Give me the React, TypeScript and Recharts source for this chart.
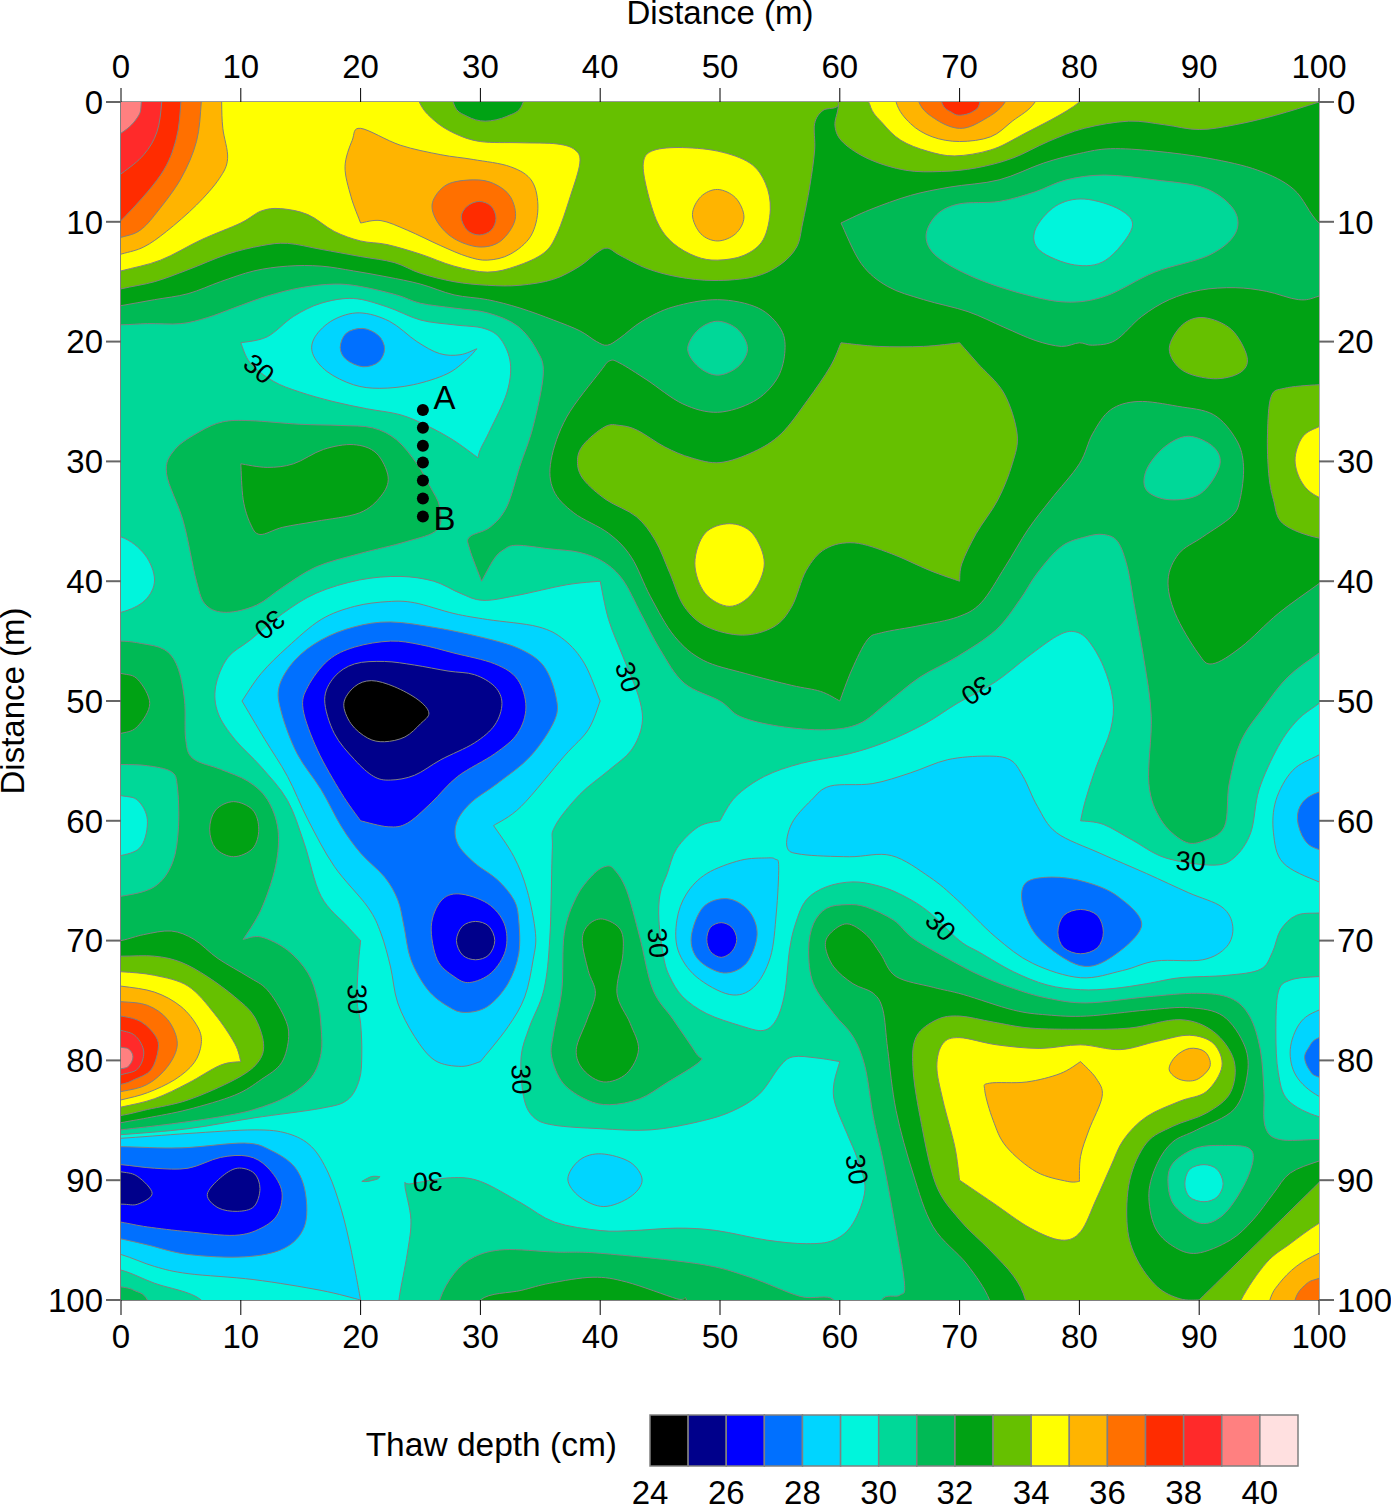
import { ScatterChart, Scatter, XAxis, YAxis, ReferenceArea } from 'recharts';

type Pt = [number, number];

const FONT = '"Liberation Sans", Arial, sans-serif';
const TICKS = [0, 10, 20, 30, 40, 50, 60, 70, 80, 90, 100];
const LEVELS = [24, 25, 26, 27, 28, 29, 30, 31, 32, 33, 34, 35, 36, 37, 38, 39, 40];
const LEVEL_TICKS = [24, 26, 28, 30, 32, 34, 36, 38, 40];
const COLORS = ['#000000', '#00008b', '#0000ff', '#0070ff', '#00d5ff', '#00f5dc', '#00d898', '#00ba55', '#00a214', '#66c000', '#ffff00', '#ffb400', '#ff7000', '#ff2c00', '#ff2a2a', '#ff8080', '#ffe0e0'];

// contours, in metres, a repeated point is a sharp corner
const BASE: Pt[] = [[-3, -3], [-3, -3], [103, -3], [103, -3], [103, 103], [103, 103], [-3, 103], [-3, 103]];

const TOP_31: Pt[] = [[-3, 18.6], [0, 18.6], [2.2, 18.5], [5, 18.5], [7.2, 18], [9.4, 17.2], [12.2, 16.2], [15, 15.5], [17.8, 15.2], [20, 15.4], [23, 16.1], [25, 16.8], [27.8, 17.2], [30.6, 17.6], [33.1, 18.7], [34.7, 20.7], [35.25, 22.7], [34.4, 27.1], [33.3, 30.4], [32.2, 33.8], [30.8, 35.5], [29.1, 36.3], [29.1, 37.3], [30.1, 40], [30.1, 40], [31.1, 38.2], [31.9, 37.4], [33, 37], [35.8, 37.3], [38.3, 37.6], [40.3, 38.4], [41.9, 39.9], [43.4, 42.7], [45, 45.7], [47, 48.5], [50, 50], [51.7, 51.3], [54.9, 52.1], [58.8, 52.4], [61.6, 51.9], [63.9, 50.2], [66.7, 48], [69.8, 46.3], [73, 44.1], [75, 41.6], [76.5, 39.3], [78.5, 37.1], [80.5, 36.3], [82, 36.1], [83.2, 36.7], [84, 38.8], [84.6, 42.1], [85.4, 46.6], [86, 51.3], [85.8, 56.9], [86.8, 59.9], [88.7, 61.7], [90.3, 61.7], [92.1, 60.5], [92.5, 56.9], [93.5, 53.3], [95.4, 50.5], [97.4, 48], [100, 46], [103, 44], [103, -3], [-3, -3]];
const TOP_32: Pt[] = [[-3, 17.5], [0, 17], [2.8, 16.5], [5.6, 16], [8.3, 15], [11.1, 14.1], [13.9, 13.7], [16.7, 13.7], [19.4, 14.1], [22.2, 14.6], [25, 15.2], [27.8, 16.1], [30.6, 16.5], [33.3, 17.2], [36.1, 18.2], [38.3, 19.1], [39.7, 20], [40.6, 20.3], [41.65, 19.7], [43.5, 18.3], [46.1, 17.1], [49.8, 16.5], [53.2, 17.2], [55.1, 19], [55.4, 21], [54.7, 23.2], [52.8, 25], [49.8, 25.9], [46.9, 25.2], [43.9, 23.2], [41.65, 21.8], [40.8, 21.6], [40, 22.5], [37.2, 26.3], [35.9, 29.9], [36.1, 32.4], [37.8, 34.3], [40.7, 36], [42.6, 38], [44.2, 41.3], [46.2, 44.6], [48.6, 46.6], [52.1, 47.7], [56, 48.7], [58.4, 49.2], [60, 50], [60, 50], [61, 47.4], [62.3, 44.9], [63.5, 44.3], [66.7, 43.7], [69.8, 43], [71.8, 41.8], [73.8, 38.8], [75.7, 35.7], [77.6, 33.2], [80, 30.2], [81.1, 27.7], [82.6, 25.7], [84.9, 25], [88.2, 25.4], [91.2, 26.1], [93.1, 28.2], [93.7, 30.4], [93.4, 33.2], [92.7, 34.6], [90.3, 36.3], [88.3, 37.7], [87.4, 39.9], [88, 42.7], [89.9, 46], [91.1, 46.9], [93.5, 45.5], [96.6, 42.7], [100, 40.2], [103, 38], [103, -3], [-3, -3]];
const TOP_33_LEFT: Pt[] = [[-3, 16.4], [0, 15.6], [2.8, 15], [5.6, 14], [8.9, 12.7], [11.7, 12], [13.9, 11.8], [16.7, 12.3], [20, 12.9], [22.8, 13.4], [25, 14.3], [27.8, 15], [30.6, 15.3], [33.3, 15.3], [36.1, 14.8], [38.3, 13.7], [39.7, 12.6], [40.6, 12.2], [41.65, 12.8], [43.9, 13.9], [46.5, 14.6], [49.5, 14.9], [52.8, 14.6], [55, 13.6], [56.4, 12.1], [56.9, 10.1], [57.5, 7], [57.9, 4], [57.9, 1.8], [58.6, 0.7], [60, 0.1], [60, -3], [-3, -3]];
const TOP_33_RIGHT: Pt[] = [[60, -3], [59.9, 0.2], [59.6, 2], [60.3, 3.4], [62.5, 4.8], [65.5, 5.7], [68.5, 5.8], [71.4, 5.5], [74.4, 4.7], [77.4, 3.3], [80.4, 2.2], [84.1, 1.6], [87.1, 1.9], [90, 2.3], [93, 1.9], [96.4, 1.1], [100, 0], [103, -1], [103, -3]];
const TOP_32_POCKET: Pt[] = [[27.5, -3], [27.8, 0.2], [28.9, 1.2], [30.4, 1.6], [32.2, 1.2], [33.5, 0.2], [33.8, -3]];
const TOP_34_LEFT: Pt[] = [[-3, 14.9], [0, 14.1], [3.3, 13.2], [6.7, 11.5], [10, 10.1], [11.7, 9.1], [13.3, 8.9], [15.6, 9.4], [17.8, 10.8], [20, 11.6], [22.2, 11.9], [25, 12.7], [27.8, 13.7], [30.6, 14.2], [33, 13.7], [35.3, 12.6], [36.4, 11], [37.5, 7.9], [38.3, 5.1], [37.9, 4], [36.4, 3.5], [33.3, 3.4], [30, 3.3], [27.8, 2.6], [26.1, 1.5], [24.9, 0], [24, -3], [-3, -3]];
const TOP_35_LEFT: Pt[] = [[-3, 13.5], [0, 12.7], [1.9, 12.1], [3.8, 10.8], [6.3, 8.6], [8.2, 6.4], [8.9, 4.7], [8.5, 2.2], [8.4, 0], [8.4, -3], [-3, -3]];
const TOP_36_LEFT: Pt[] = [[-3, 12], [0, 11.3], [1.6, 10.7], [3, 9.2], [5, 6.4], [6.3, 3.3], [6.7, 0], [6.8, -3], [-3, -3]];
const TOP_37_LEFT: Pt[] = [[-3, 12.5], [0, 9.9], [3.3, 6.1], [4.6, 3.1], [5, 0], [5.1, -3], [-3, -3]];
const TOP_38_LEFT: Pt[] = [[-3, 8], [0, 6], [1.9, 4.4], [3, 2.5], [3.4, 0], [3.5, -3], [-3, -3]];
const TOP_39_LEFT: Pt[] = [[-3, 4], [0, 2.6], [1.4, 1.25], [1.7, 0], [1.8, -3], [-3, -3]];
const ORANGE_TOP: Pt[] = [[20, 2.2], [19.3, 3.2], [18.7, 5.4], [19.2, 7.9], [20, 10.1], [20, 10.1], [21.7, 9.9], [23.9, 10.7], [26.7, 12], [28.9, 12.9], [30.6, 13.2], [32.5, 12.7], [34.2, 11.2], [34.8, 8.9], [34.3, 6.6], [32.5, 5.4], [29.4, 4.8], [26.7, 4.4], [23.3, 3.6]];
const HOT_TOP_36: Pt[] = [[29.4, 6.5], [27.2, 6.9], [26, 8.4], [26.4, 10], [27.8, 11.4], [29.9, 12.1], [31.7, 11.6], [32.9, 9.8], [32.5, 7.9], [31.1, 6.8]];
const HOT_TOP_37: Pt[] = [[29.9, 8.3], [28.9, 8.7], [28.4, 9.6], [28.9, 10.7], [29.9, 11.1], [30.9, 10.7], [31.3, 9.7], [30.9, 8.7]];
const YELLOW_50: Pt[] = [[46.5, 3.8], [44.3, 4.1], [43.6, 5.1], [43.9, 7.3], [44.8, 10.1], [46.1, 11.8], [48, 12.9], [49.8, 13.2], [52, 12.8], [53.6, 11.5], [54.2, 9], [53.8, 6.8], [52.5, 5.1], [49.8, 4.1]];
const ORANGE_50: Pt[] = [[49.8, 7.3], [48.4, 7.9], [47.7, 9.4], [48.4, 11], [49.8, 11.6], [51.3, 11], [52, 9.6], [51.3, 8]];
const YELLOW_70: Pt[] = [[62.3, -3], [62.5, 0.2], [63.6, 1.8], [65.1, 3.2], [67.3, 4.1], [69.6, 4.5], [72.6, 4], [75.2, 2.75], [80, 0], [82, -3]];
const ORANGE_70: Pt[] = [[64.5, -3], [64.7, 0], [65.9, 1.8], [67.7, 2.9], [70, 3.3], [72.6, 2.9], [74.4, 1.6], [76.3, 0], [77.5, -3]];
const HOT_70_36: Pt[] = [[66.3, -3], [66.6, 0], [68.1, 1.5], [70, 2.2], [71.8, 1.6], [73.8, 0], [74.5, -3]];
const HOT_70_37: Pt[] = [[68.2, -3], [68.5, 0], [69.4, 0.9], [70.1, 1.1], [71.1, 0.8], [71.7, 0], [72, -3]];

const UPPER_RIGHT_31: Pt[] = [[60.1, 10.1], [60.1, 10.1], [62.5, 9], [65.9, 7.8], [69.2, 7.1], [73.3, 6.5], [77, 5.1], [80, 4.3], [82.6, 3.9], [86.3, 4.1], [90.8, 4.7], [94.9, 5.7], [97.9, 7.3], [100, 10.1], [103, 12], [103, 15], [100, 16.2], [98.3, 16.5], [95.6, 15.8], [93, 15.5], [90.1, 15.7], [87.5, 16.5], [85.2, 17.9], [83, 19.9], [81.1, 20.3], [80, 20.1], [78.5, 20.4], [76.3, 19.9], [73.7, 18.8], [70.7, 17.5], [67, 16.5], [64, 15.4], [61.8, 13.5]];
const UPPER_RIGHT_30: Pt[] = [[82.1, 6.1], [78.9, 6.5], [76.3, 7.5], [73.3, 8.3], [70, 8.5], [68.1, 9.4], [67.2, 11.2], [68.1, 12.9], [71.1, 14.6], [75.2, 16], [78.9, 16.7], [82.2, 16.2], [86.3, 14.2], [90.8, 12.8], [93, 11], [92.9, 9], [90.5, 7.2], [86.3, 6.5]];
const UPPER_RIGHT_29: Pt[] = [[80.4, 8.1], [78, 8.7], [76.3, 10.7], [76.7, 12.4], [79.6, 13.6], [82.2, 13.2], [84.4, 10.5], [83.4, 9]];
const POCKET_50_30: Pt[] = [[49.8, 18.3], [48.2, 19], [47.3, 20.6], [48.2, 22.1], [49.8, 22.8], [51.5, 22.1], [52.3, 20.6], [51.5, 19]];
const SPOT_90_33: Pt[] = [[90.4, 18], [88.6, 18.6], [87.5, 20.6], [88.6, 22.4], [91.2, 23.1], [93.4, 22.6], [94, 21.3], [92.7, 19]];
const RIGHT_33: Pt[] = [[103, 23.6], [100, 23.6], [97.1, 23.9], [96, 24.6], [95.7, 27.7], [95.8, 31], [96.2, 33.2], [97, 35.2], [100, 36.4], [103, 36.4]];
const RIGHT_34: Pt[] = [[103, 26], [100, 27.1], [98.6, 28], [98, 29.9], [98.6, 31.8], [100, 33], [103, 34]];
const CENTER_33: Pt[] = [[60.1, 20.1], [60.1, 20.1], [63.2, 20.4], [67, 20.4], [70, 20.1], [70, 20.1], [71.5, 21.8], [73.7, 24.3], [74.8, 27.7], [74.4, 30.2], [73.2, 33.2], [71.4, 36], [70.2, 38.5], [70, 40], [70, 40], [67.5, 39.1], [64.3, 37.7], [61.2, 36.8], [58.8, 37.3], [57.2, 39.1], [56, 42.1], [54.5, 43.8], [51.9, 44.5], [48.9, 43.8], [47, 42.1], [45.8, 39.3], [44.6, 36.6], [43, 34.6], [40.5, 33.2], [38.6, 31.5], [38.1, 30], [38.6, 28.6], [40.4, 27.1], [41.65, 27], [43.1, 27.4], [45.4, 28.8], [47.6, 29.7], [50, 30.1], [52.8, 29.2], [55.1, 27.7], [57.3, 24.9], [59.2, 22.1]];
const CENTER_34: Pt[] = [[50.8, 35.2], [48.75, 36], [47.9, 38.5], [48.75, 41], [50.8, 42.1], [52.7, 41], [53.7, 38.5], [52.7, 36]];
const POCKET_88_30: Pt[] = [[89.1, 27.9], [87.1, 28.8], [85.6, 30.7], [85.6, 32.4], [87.5, 33.2], [90.1, 32.7], [91.7, 30.4], [91.2, 28.8]];

const TEAR_29: Pt[] = [[10, 20.1], [10, 20.1], [12.2, 19.6], [14.4, 17.9], [16.7, 16.8], [19.4, 16.4], [22.2, 17.1], [25, 18.2], [27.8, 18.6], [30.3, 18.9], [31.7, 19.8], [32.5, 21.8], [32.2, 24.3], [30.8, 27.4], [30, 29], [29.8, 29.7], [29.8, 29.7], [27.7, 28.2], [25.5, 27], [23.3, 26.1], [20.5, 25.6], [17.7, 25], [14.9, 24.2], [12.7, 23.3], [10.8, 21.8]];
const TEAR_28: Pt[] = [[19.9, 17.6], [17.7, 18.2], [16.2, 19.6], [16, 21], [17.2, 22.5], [19.4, 23.6], [21.6, 23.9], [24.4, 23.6], [27.2, 22.7], [28.85, 21.5], [29.7, 20.6], [29.7, 20.6], [28.3, 21.1], [26.6, 21], [24.7, 20], [22.4, 18.3]];
const TEAR_27: Pt[] = [[20.2, 18.9], [18.8, 19.3], [18.3, 20.5], [18.8, 21.5], [20.2, 22.1], [21.5, 21.7], [22, 20.6], [21.5, 19.5]];
const ISLAND_31: Pt[] = [[6.6, 27.5], [8.5, 26.7], [10.8, 26.6], [14.9, 26.9], [18.3, 27], [21, 27.2], [23, 28.2], [24.7, 30.2], [25.8, 32.1], [26.6, 33.8], [26.4, 35.7], [23.8, 36.7], [19.9, 37.7], [16.3, 38.8], [13.5, 40.5], [11.3, 42], [8.8, 42.6], [7.1, 42], [6.3, 40], [5.2, 35], [3.8, 31], [4.5, 29]];
const ISLAND_32: Pt[] = [[10, 30.2], [10, 30.2], [12.2, 30.5], [14.4, 30.2], [16.9, 29], [19.4, 28.6], [21.3, 29.3], [22.3, 31.3], [21.7, 32.9], [19.9, 34.3], [16.3, 35], [13.5, 35.5], [11.6, 36.1], [10.8, 35.2], [10.2, 33.2]];
const EDGE_29_40: Pt[] = [[-3, 36], [0, 36.3], [2, 37.8], [2.8, 39.9], [2, 41.6], [0, 42.6], [-3, 43]];

const LEFT_31: Pt[] = [[-3, 45], [0, 45], [1.7, 45.2], [3.6, 45.7], [4.7, 47.1], [5.3, 49.9], [5.4, 53.2], [6, 54.8], [8.3, 55.7], [10.6, 56.7], [12.2, 58.2], [13.1, 60.7], [12.9, 63.8], [11.7, 67.4], [10.2, 69.9], [10.2, 69.9], [11.7, 69.7], [13.9, 70.8], [15.6, 72.7], [16.4, 74.9], [16.7, 77.2], [16.7, 79.4], [15.9, 81.4], [13.9, 83], [11.1, 84.1], [8.3, 84.7], [4.2, 85.3], [0, 85.8], [-3, 86.2]];
const LEFT_30: Pt[] = [[-3, 55.3], [0, 55.3], [2.2, 55.4], [4.2, 55.9], [4.7, 57.1], [4.8, 60.5], [4.3, 63.5], [2.8, 65.5], [0, 66.3], [-3, 66.5]];
const LEFT_29: Pt[] = [[-3, 57.5], [0, 57.9], [1.4, 58.3], [2.2, 59.9], [1.7, 62.1], [0, 62.9], [-3, 63.2]];
const LEFT_32: Pt[] = [[-3, 47.3], [0, 47.7], [1.4, 48.2], [2.4, 50.2], [1.4, 52.1], [0, 52.7], [-3, 53]];
const SPOT_10_32: Pt[] = [[9.4, 58.4], [7.9, 59.1], [7.4, 60.7], [7.9, 62.3], [9.4, 63], [11, 62.3], [11.5, 60.7], [11, 59.1]];
const NEST_32: Pt[] = [[-3, 70.5], [0, 70], [1.9, 69.5], [4.2, 69.2], [6.1, 69.9], [8.1, 71.5], [10.6, 73], [12.2, 74.1], [13.6, 76.3], [14, 78], [13.4, 80.2], [11.7, 81.6], [9.5, 82.9], [5.6, 84.1], [2.2, 84.8], [0, 85.2], [-3, 85.8]];
const NEST_33: Pt[] = [[-3, 71.3], [0, 71.3], [2.8, 71.3], [5, 71.8], [7.2, 73], [9.5, 74.7], [11.1, 76.3], [11.9, 78.6], [11.4, 80.2], [9.5, 81.6], [5.6, 83.3], [2.2, 84.1], [0, 84.6], [-3, 85]];
const NEST_34: Pt[] = [[-3, 72.5], [0, 72.6], [2.8, 72.9], [5.6, 73.8], [7.8, 76.1], [9.5, 78.6], [10, 80.1], [10, 80.1], [8.3, 80.4], [5.6, 81.9], [2.8, 83.2], [0, 83.9], [-3, 84.5]];
const NEST_35: Pt[] = [[-3, 73.5], [0, 73.8], [2.8, 74.3], [5, 75.5], [6.4, 77.2], [6.7, 78.6], [6.1, 80.2], [4.5, 81.6], [2.2, 82.7], [0, 83.3], [-3, 84]];
const NEST_36: Pt[] = [[-3, 75], [0, 75.1], [2.2, 75.4], [3.9, 76.6], [4.7, 78.6], [3.9, 80.5], [2.2, 82], [0, 82.6], [-3, 83]];
const NEST_37: Pt[] = [[-3, 76], [0, 76.3], [1.7, 76.8], [2.9, 78], [3.1, 79.1], [2.5, 80.8], [1.1, 81.6], [0, 82], [-3, 82.6]];
const NEST_38: Pt[] = [[-3, 77], [0, 77.5], [1.25, 78], [1.9, 79.3], [1.4, 80.7], [0, 81.2], [-3, 82]];
const NEST_39: Pt[] = [[-3, 78.5], [0, 78.9], [0.7, 79.1], [1, 79.7], [0.7, 80.4], [0, 80.7], [-3, 81]];

const MID_29: Pt[] = [[40, 40], [40, 40], [37.2, 40.3], [33, 41.2], [30.2, 41.6], [28.3, 41], [26.1, 40], [23.3, 39.6], [19.9, 39.9], [16.3, 41], [13.5, 42.7], [10.8, 44.9], [8.9, 46.4], [7.9, 48.8], [8.1, 51], [9.5, 53.2], [11.7, 55.5], [13.9, 58.3], [15.3, 61.9], [16.7, 66.3], [18.9, 68.8], [20, 70], [20, 70], [19.8, 72.2], [19.7, 75], [20, 76.9], [20.1, 79.4], [19.9, 81.6], [18.9, 83.3], [16.7, 84], [11.1, 84.8], [5.6, 85.7], [0, 86.2], [-3, 86.4], [-3, 97], [0, 97.5], [2.8, 98.6], [6.7, 100], [8, 103], [23, 103], [23.2, 100], [23.9, 96.1], [24.2, 93.3], [23.7, 90.4], [24.2, 90.3], [27.5, 89.8], [30, 90.1], [33.4, 91.9], [36.2, 93.5], [40, 94.2], [42.8, 94.2], [46.4, 94], [49.7, 94.2], [53.9, 95], [57.2, 95.3], [59.5, 95], [61.1, 93.6], [62.1, 90.8], [61.5, 88.3], [60.6, 86.1], [59.6, 83.6], [59.5, 82], [60, 80.1], [60, 80.1], [58.1, 79.8], [56.1, 79.7], [55, 80.5], [53.3, 82.8], [51.1, 84.2], [48.3, 85.1], [44.2, 85.8], [40, 85.7], [36.1, 85.4], [34.4, 84.7], [33.6, 83], [33.4, 79.7], [34.1, 77.2], [35.3, 74.1], [35.8, 69.7], [36, 62.5], [36.2, 60.5], [38.3, 57.8], [40.7, 55.8], [42.6, 54.1], [43.5, 51.9], [43.2, 49.6], [41.9, 46.3], [40.7, 43.2]];
const RIGHT_29: Pt[] = [[46.4, 62.3], [48.2, 60.5], [50, 60], [50, 60], [51.3, 58], [53.7, 56.3], [56.8, 55.2], [60.8, 54.4], [63.9, 53.4], [67.1, 51.9], [69.8, 50.2], [73, 48.4], [75.7, 46.3], [78.1, 44.6], [79.5, 44.2], [80.7, 44.9], [82, 47.1], [82.8, 49.9], [82.6, 52.4], [81.4, 55.5], [80.5, 58.3], [80.1, 60], [80.1, 60], [82, 60.3], [84.4, 61.6], [87.2, 63.1], [91.1, 63.7], [92.9, 63.1], [94.3, 61], [95, 57.4], [96.6, 53.8], [98.2, 51.6], [100, 50.2], [103, 48], [103, 67.7], [100, 67.7], [98.1, 67.9], [96.8, 69.1], [96.1, 71], [95.1, 72.4], [92.3, 72.9], [88.4, 73.1], [85.6, 73.6], [82.8, 74], [80.1, 74.1], [77.3, 73.7], [74.5, 72.6], [71.7, 71], [70, 70], [67.3, 67.5], [65, 66.1], [63.1, 65.4], [61.1, 65.1], [58.9, 65.5], [57.2, 66.6], [56.3, 68.6], [55.8, 70.8], [55.4, 74.4], [54.7, 76.6], [53.6, 77.5], [51.7, 77.1], [48.9, 76.1], [46.9, 74.7], [45.8, 73], [45.3, 71.4], [44.9, 68.3], [45, 66.1], [45.6, 64.4]];
const EDGE_60_28: Pt[] = [[103, 53], [100, 54.5], [97.8, 55.8], [96.4, 58.3], [96.2, 61], [97, 63.5], [100, 65.1], [103, 66]];
const EDGE_60_27: Pt[] = [[103, 57], [100, 57.6], [98.6, 58.5], [98.2, 59.9], [98.8, 61.6], [100, 62.4], [103, 63]];
const EDGE_80_29: Pt[] = [[103, 73], [100, 73], [97.6, 73.3], [96.6, 74.3], [96.4, 77.7], [96.6, 81], [97.4, 83.3], [100, 84.7], [103, 85]];
const EDGE_80_28: Pt[] = [[103, 75], [100, 75.8], [98.4, 76.9], [97.6, 79.1], [98.1, 81.3], [100, 83], [103, 84]];
const EDGE_80_27: Pt[] = [[103, 77.5], [100, 78.1], [99.1, 79], [98.8, 79.8], [99.2, 80.8], [100, 81.4], [103, 82]];

const LOW_28: Pt[] = [[10.1, 50], [10.1, 50], [11.7, 47.7], [13.9, 45.5], [16.7, 43.2], [19.5, 42.1], [22.3, 41.7], [24.5, 41.8], [27.8, 42.7], [30.6, 43.2], [34.8, 43.8], [37, 44.9], [38.7, 46.9], [40, 50], [40, 50], [39, 52.4], [37, 54.6], [33.4, 58.8], [31.1, 60.4], [31.1, 60.4], [32.8, 63], [33.9, 65.8], [34.6, 69.4], [34.4, 71.6], [33.7, 74.7], [32.3, 77.2], [30, 80.1], [30, 80.1], [28.4, 80.5], [26.2, 80], [24.5, 78], [23.1, 75.2], [22.5, 72.2], [21.7, 69.4], [20.6, 67.2], [17.8, 63.8], [15.6, 59.9], [13.9, 56.3], [12, 53.2]];
const LOW_27: Pt[] = [[22.5, 43.4], [19.5, 43.8], [16.7, 44.9], [14.5, 46.6], [13.2, 48.8], [13.4, 51], [14.7, 54.4], [16.7, 57.4], [18.4, 60.5], [20, 62.7], [22, 64.7], [23.1, 66.6], [23.6, 68.7], [24.2, 71.6], [25.6, 74.1], [27.3, 75.5], [28.7, 76], [30.6, 75.5], [32.3, 73.6], [33.2, 71.1], [33.2, 68.3], [32.8, 66.6], [31.4, 64.9], [29.5, 63.5], [28.1, 61.9], [28, 60.2], [29.2, 58.5], [31.4, 56.9], [34.2, 54.6], [36.2, 51.6], [36.3, 49.6], [35.3, 47.1], [33.4, 45.7], [30.6, 44.8], [26.4, 43.9]];
const LOW_26: Pt[] = [[22.5, 45], [19.5, 45.5], [17.3, 46.6], [15.6, 48.8], [15.2, 50.7], [16.4, 54.1], [18.4, 57.7], [20, 60], [20, 60], [22.3, 60.5], [23.9, 60.2], [25.9, 58.5], [28.1, 56.3], [31.2, 54.4], [33.1, 52.7], [33.8, 50.5], [33.1, 48.2], [31.2, 46.9], [27.8, 46], [25, 45.3]];
const LOW_25: Pt[] = [[22, 46.7], [19.5, 46.9], [17.8, 48], [17, 49.9], [17.8, 52.7], [19.5, 54.9], [21.1, 56.3], [22.5, 56.6], [24.5, 56.2], [26.7, 54.9], [29.5, 53.5], [31.2, 52], [31.8, 50.2], [31.2, 48.8], [29.5, 47.8], [27.3, 47.5], [24.5, 47]];
const LOW_24: Pt[] = [[20.9, 48.3], [19.5, 48.8], [18.6, 50.2], [19.2, 51.9], [20.6, 53.1], [22, 53.4], [23.7, 53], [25, 51.9], [25.7, 51], [24.8, 49.9], [22.8, 48.8]];
const LOBE_26: Pt[] = [[28.2, 66.1], [26.7, 66.7], [25.9, 68.8], [26.4, 71.6], [27.8, 73], [29.1, 73.5], [30.9, 72.7], [32.1, 70.8], [32, 68.6], [30.6, 66.9]];
const LOBE_25: Pt[] = [[29.6, 68.4], [28.5, 68.8], [28, 70], [28.5, 71.2], [29.6, 71.6], [30.7, 71.2], [31.2, 70], [30.7, 68.8]];

const EYE_28: Pt[] = [[53.9, 63.1], [51.7, 63.3], [48.9, 64.4], [47.2, 66.1], [46.4, 68.3], [46.5, 70.8], [48, 73], [50.8, 74.5], [52.8, 73.9], [54.2, 71.4], [54.7, 67.7], [54.9, 63.8], [54.6, 63.2]];
const EYE_27: Pt[] = [[50.6, 66.5], [48.6, 67.2], [47.6, 69.7], [48.2, 71.6], [50.3, 72.7], [52.2, 71.9], [53.1, 69.5], [52.4, 67.5]];
const EYE_26: Pt[] = [[50.1, 68.5], [49.2, 68.9], [48.9, 69.9], [49.2, 70.9], [50.1, 71.4], [51, 70.9], [51.4, 69.9], [51, 68.9]];
const BROAD_28: Pt[] = [[72.2, 54.6], [69, 54.9], [65.9, 56], [62.7, 56.9], [59.2, 57.1], [57.6, 58.3], [56, 60.2], [55.6, 62.2], [56.8, 62.8], [60.8, 63], [64.3, 62.9], [67.5, 64.7], [69.8, 66.6], [73, 69.7], [76.1, 71.9], [80.1, 73.1], [83.6, 72.5], [86.4, 71.7], [90.3, 71.6], [92.3, 70.5], [92.8, 68.8], [91.9, 67.2], [89.1, 66], [85.6, 64.4], [81.7, 62.7], [78.1, 61], [76.5, 58.8], [75.3, 56.3], [74.2, 54.9]];
const BROAD_27: Pt[] = [[77.7, 64.7], [75.5, 65.2], [75.3, 67.2], [76.7, 69.9], [80.1, 72.1], [82.8, 71.3], [85.2, 68.7], [83.2, 66.3], [80.5, 65.1]];
const BROAD_26: Pt[] = [[80.1, 67.4], [78.7, 67.9], [78.2, 69.3], [78.7, 70.6], [80.1, 71.1], [81.5, 70.6], [82, 69.3], [81.5, 67.9]];

const KEEL_31: Pt[] = [[40.5, 63.8], [39.4, 64.5], [38, 66.4], [37, 69.4], [36.8, 74.1], [36.1, 77.8], [35.95, 79.7], [36.9, 81.9], [38.9, 83.3], [40.8, 83.7], [43.3, 83.2], [45.5, 81.9], [48.3, 80.1], [48, 79.4], [46.1, 76.6], [44.4, 74.1], [43.3, 69.7], [42.2, 65.8], [41.2, 64.1]];
const KEEL_32: Pt[] = [[40.2, 68.2], [39, 68.7], [38.5, 70], [39, 72.5], [39.6, 74.4], [38.9, 76.6], [38, 79.1], [38.6, 80.8], [40.3, 81.8], [42.2, 81.1], [43.2, 79.1], [42.5, 76.9], [41.4, 74.4], [41.9, 71.1], [41.7, 69.1]];

const SOUTH_31: Pt[] = [[60.6, 67], [58.9, 67.3], [57.8, 68.6], [57.4, 70.8], [57.8, 73.6], [59.5, 76.1], [61.1, 78], [62.1, 80.5], [62.8, 84.7], [63.6, 88.3], [64.5, 93.1], [65.4, 98.6], [65, 99.6], [63.5, 100], [63, 103], [103, 103], [103, 86.6], [100, 86.6], [96.7, 86.6], [95.5, 85.5], [95.4, 82.5], [95.1, 79.1], [94.2, 76.3], [92.6, 74.8], [89.8, 74.4], [85.6, 74.7], [80.6, 75.2], [77.3, 74.8], [74.5, 74], [71.7, 72.9], [69, 71.5], [66.1, 69.8], [64.5, 68.3], [62.2, 67.2]];
const SOUTH_32: Pt[] = [[60.6, 68.6], [59.2, 69.4], [58.8, 70.5], [59.5, 72.2], [61.1, 73.6], [62.8, 74.4], [63.6, 75.8], [64, 79.1], [64.7, 84.2], [66.1, 89.4], [67.8, 93.9], [70.6, 97], [72.5, 100], [73, 103], [103, 103], [103, 87.5], [100, 88.4], [97.6, 89.4], [96.2, 91.1], [94.5, 93.3], [92.6, 95], [89.8, 96.1], [87.8, 95.5], [86.3, 93.9], [85.8, 91.1], [86.5, 88.6], [87.8, 86.8], [89.8, 85.8], [92.9, 84.1], [94, 81.3], [93.8, 78.8], [92, 76.3], [89.2, 75.6], [85.6, 75.8], [80.6, 76.3], [77.3, 76.2], [74.5, 75.8], [70.3, 74.5], [67.8, 73.9], [64.7, 73], [63.4, 71.1], [62.2, 69.5]];
const SOUTH_33: Pt[] = [[76, 103], [75.5, 100], [74.5, 98], [72.5, 95.8], [70, 93.3], [68, 90.3], [66.7, 84.7], [66.1, 80.5], [66.4, 78], [68.1, 76.6], [70, 76.3], [72.8, 76.8], [75.9, 77.3], [80.1, 77.4], [84.2, 77.3], [88.4, 76.6], [91.2, 77.6], [92.9, 80], [92.6, 82.7], [90.6, 84.4], [87.8, 85.5], [85.6, 86.9], [84.2, 90], [84, 93.9], [84.8, 96.6], [86.5, 98.9], [88.4, 99.9], [90, 100], [90, 100], [100, 90.2], [103, 87.2], [103, 103]];
const SOUTH_34: Pt[] = [[70, 78.1], [68.6, 78.6], [68.1, 80.5], [68.6, 83.3], [69.6, 87.2], [70, 90], [70, 90], [72.8, 91.9], [75.9, 94], [78.5, 95], [80.1, 94.3], [81.4, 91.6], [82.6, 88.9], [83.7, 86.6], [85.6, 84.7], [88.4, 83.4], [90.6, 82.6], [91.9, 80.5], [91.2, 78.6], [89.2, 77.9], [86.5, 78.4], [83.4, 79.1], [80.1, 78.7], [76.7, 79], [73.1, 78.7]];
const SOUTH_35: Pt[] = [[80.1, 80.1], [80.1, 80.1], [78.4, 81.1], [75.6, 81.8], [72.5, 81.9], [72.1, 82.5], [72.8, 85], [73.9, 87.2], [76.4, 89.3], [79, 90.1], [80, 90.1], [80, 90.1], [80.1, 88], [80.8, 85.8], [81.9, 83], [81.4, 81.5]];
const SOUTH_35_SMALL: Pt[] = [[89.2, 79], [88, 79.7], [87.5, 80.8], [88.4, 81.6], [89.8, 81.6], [90.9, 80.5], [90.5, 79.3]];
const RING_30: Pt[] = [[92.3, 87.1], [89.8, 87.3], [87.8, 88.6], [87.4, 90.3], [88, 92.2], [90.1, 93.6], [92, 92.9], [93.7, 90.5], [94.5, 88.3], [94.1, 87.3]];
const RING_29: Pt[] = [[90.4, 88.7], [89.2, 89.1], [88.8, 90.3], [89.2, 91.4], [90.4, 91.8], [91.5, 91.4], [92, 90.3], [91.5, 89.1]];
const CORNER_34: Pt[] = [[103, 92], [100, 93.6], [97.6, 95.3], [95.6, 96.9], [93.5, 100], [92.5, 103], [103, 103]];
const CORNER_35: Pt[] = [[103, 95], [100, 96.1], [98.1, 97.2], [96.7, 98.6], [95.9, 100], [95.3, 103], [103, 103]];
const CORNER_36: Pt[] = [[103, 97.5], [100, 98.2], [98.9, 98.7], [98, 100], [97.6, 103], [103, 103]];

const SW_28: Pt[] = [[-3, 86.6], [0, 86.5], [5.6, 86.1], [11.1, 85.8], [13.9, 86.1], [15.9, 87.2], [17.3, 89.4], [18.4, 92.5], [19.2, 95.8], [20, 100], [20, 100], [16.7, 99.2], [11.1, 98.3], [5.6, 97.8], [2.8, 97.2], [0, 96.2], [-3, 95.5]];
const SW_27: Pt[] = [[-3, 87.2], [0, 87.2], [5, 87.3], [10.3, 86.9], [12.5, 87.5], [14.5, 88.9], [15.4, 91.1], [15.3, 93.9], [13.6, 95.7], [10.3, 96.4], [5.6, 96.2], [2.2, 95.4], [0, 94.9], [-3, 94.3]];
const SW_26: Pt[] = [[-3, 88.5], [0, 88.7], [2.8, 89], [5.6, 89], [8.3, 88.1], [10.6, 88], [12.2, 88.9], [13.4, 90.8], [13.1, 92.8], [11.7, 94], [9.5, 94.6], [5.6, 94.3], [2.2, 93.9], [0, 93.5], [-3, 93]];
const SW_25_EDGE: Pt[] = [[-3, 89], [0, 89.3], [1.4, 89.7], [2.6, 91.1], [1.4, 92], [0, 92], [-3, 92]];
const SW_25: Pt[] = [[9.7, 89], [8.3, 89.8], [7.2, 91.2], [8.1, 92.3], [9.7, 92.6], [11.1, 92.2], [11.6, 90.7], [11.1, 89.4]];
const SW_31_CORNER: Pt[] = [[-3, 98.5], [0, 98.9], [1.1, 99.2], [2.2, 100], [3, 103], [-3, 103]];
const SLIVER_30: Pt[] = [[20.1, 90.1], [20.1, 90.1], [20.9, 89.7], [21.6, 89.7], [21.6, 89.7], [21.4, 89.9], [20.6, 90.1]];
const BLOB_28: Pt[] = [[40.1, 87.8], [38.3, 88.3], [37.3, 89.9], [38.3, 91.4], [40.3, 92.2], [42.5, 91.4], [43.5, 90], [42.5, 88.5]];
const FLOOR_31: Pt[] = [[26, 103], [26.6, 100], [27.8, 97.8], [29.5, 96.4], [32, 95.8], [36.2, 96], [40, 96.1], [48.3, 97], [52.5, 98.1], [56.7, 99.7], [59.5, 100], [60, 103]];
const FLOOR_32: Pt[] = [[29, 103], [30, 100], [33.4, 99.2], [35.8, 98.6], [39.4, 98.1], [42.2, 98.5], [46.4, 99.9], [47.2, 100], [47.5, 103]];

// painted in this order, each with the level whose colour it takes
const LAYERS: [number, Pt[]][] = [
  [30, BASE], [31, TOP_31], [32, TOP_32], [33, TOP_33_LEFT], [33, TOP_33_RIGHT], [32, TOP_32_POCKET],
  [34, TOP_34_LEFT], [35, TOP_35_LEFT], [36, TOP_36_LEFT], [37, TOP_37_LEFT], [38, TOP_38_LEFT], [39, TOP_39_LEFT],
  [35, ORANGE_TOP], [36, HOT_TOP_36], [37, HOT_TOP_37], [34, YELLOW_50], [35, ORANGE_50],
  [34, YELLOW_70], [35, ORANGE_70], [36, HOT_70_36], [37, HOT_70_37],
  [31, UPPER_RIGHT_31], [30, UPPER_RIGHT_30], [29, UPPER_RIGHT_29], [30, POCKET_50_30], [33, SPOT_90_33], [33, RIGHT_33], [34, RIGHT_34],
  [33, CENTER_33], [34, CENTER_34], [30, POCKET_88_30],
  [29, TEAR_29], [28, TEAR_28], [27, TEAR_27], [31, ISLAND_31], [32, ISLAND_32], [29, EDGE_29_40],
  [29, MID_29], [29, RIGHT_29], [31, LEFT_31], [30, LEFT_30], [29, LEFT_29], [32, LEFT_32], [32, SPOT_10_32],
  [32, NEST_32], [33, NEST_33], [34, NEST_34], [35, NEST_35], [36, NEST_36], [37, NEST_37], [38, NEST_38], [39, NEST_39],
  [28, EDGE_60_28], [27, EDGE_60_27],
  [28, LOW_28], [27, LOW_27], [26, LOW_26], [25, LOW_25], [24, LOW_24], [26, LOBE_26], [25, LOBE_25],
  [28, EYE_28], [27, EYE_27], [26, EYE_26], [28, BROAD_28], [27, BROAD_27], [26, BROAD_26],
  [31, KEEL_31], [32, KEEL_32],
  [31, SOUTH_31], [32, SOUTH_32], [33, SOUTH_33], [34, SOUTH_34], [35, SOUTH_35], [35, SOUTH_35_SMALL], [30, RING_30], [29, RING_29],
  [34, CORNER_34], [35, CORNER_35], [36, CORNER_36],
  [29, EDGE_80_29], [28, EDGE_80_28], [27, EDGE_80_27],
  [28, SW_28], [27, SW_27], [26, SW_26], [25, SW_25_EDGE], [25, SW_25], [31, SW_31_CORNER], [30, SLIVER_30], [28, BLOB_28],
  [31, FLOOR_31], [32, FLOOR_32],
];

const TRANSECT_X = [25.2, 25.2, 25.2, 25.2, 25.2, 25.2, 25.2];
const TRANSECT_Y = [25.7, 27.2, 28.7, 30.1, 31.6, 33.1, 34.6];
const END_NAMES = ['A', 'B'];
const END_X = [27, 27];
const END_Y = [24.7, 34.8];
const LABEL_X = [11.5, 12.4, 42.3, 71.4, 89.3, 68.4, 44.8, 19.7, 33.4, 61.4, 25.6];
const LABEL_Y = [22.3, 43.6, 48, 49.1, 63.4, 68.8, 70.2, 74.9, 81.6, 89.1, 90.1];
const LABEL_ANGLE = [40, 141, 73, 145, 3, 45, 85, 88, 88, 82, 178];

const levelColor = (level: number) => COLORS[LEVELS.indexOf(level)];

// closed smooth path through the outline, skipping doubled points so corners stay sharp
function closedPath(pts: { x: number; y: number }[]) {
  const n = pts.length;
  const at = (i: number) => pts[(i + n) % n];
  let d = `M${at(0).x},${at(0).y}`;
  for (let i = 0; i < n; i++) {
    const p0 = at(i - 1), p1 = at(i), p2 = at(i + 1), p3 = at(i + 2);
    if (p1.x === p2.x && p1.y === p2.y) continue;
    const c1x = p1.x + (p2.x - p0.x) / 6, c1y = p1.y + (p2.y - p0.y) / 6;
    const c2x = p2.x - (p3.x - p1.x) / 6, c2y = p2.y - (p3.y - p1.y) / 6;
    d += `C${c1x},${c1y} ${c2x},${c2y} ${p2.x},${p2.y}`;
  }
  return d + 'Z';
}

const Nothing = () => <g />;

const tickStyle = { fontSize: 33, fill: '#000', fontFamily: FONT };

export default function App() {
  const dots = TRANSECT_X.map((x, i) => ({ x, y: TRANSECT_Y[i] }));
  const ends = END_NAMES.map((name, i) => ({ name, x: END_X[i], y: END_Y[i] }));
  const labels = LABEL_X.map((x, i) => ({ x, y: LABEL_Y[i], angle: LABEL_ANGLE[i] }));
  const legendData = LEVELS.map((x) => ({ x, y: 0 }));
  return (
    <div style={{ position: 'absolute', left: 0, top: 0, width: 1391, height: 1505 }}>
      <ScatterChart width={1391} height={1505} margin={{ top: 0, right: 0, bottom: 0, left: 0 }}>
        {LAYERS.map(([level, outline], i) => (
          <Scatter
            key={i} xAxisId="bottom" yAxisId="left" data={outline.map(([x, y]) => ({ x, y }))}
            isAnimationActive={false} shape={Nothing} legendType="none"
            line={(p: any) => <path d={closedPath(p.points)} fill={levelColor(level)} stroke="#808080" strokeWidth={1} />}
          />
        ))}
        <Scatter
          xAxisId="bottom" yAxisId="left" data={labels} isAnimationActive={false} legendType="none"
          shape={(p: any) => (
            <text
              x={p.cx} y={p.cy} transform={`rotate(${p.payload.angle} ${p.cx} ${p.cy})`}
              textAnchor="middle" dominantBaseline="central" fontSize={27} fontFamily={FONT} fill="#000"
            >30</text>
          )}
        />
        <Scatter
          xAxisId="bottom" yAxisId="left" data={dots} isAnimationActive={false} legendType="none"
          shape={(p: any) => <circle cx={p.cx} cy={p.cy} r={6} fill="#000" />}
        />
        <Scatter
          xAxisId="bottom" yAxisId="left" data={ends} isAnimationActive={false} legendType="none"
          shape={(p: any) => (
            <text x={p.cx} y={p.cy} textAnchor="middle" dominantBaseline="central" fontSize={33} fontFamily={FONT} fill="#000">{p.payload.name}</text>
          )}
        />
        <XAxis xAxisId="bottom" orientation="bottom" type="number" dataKey="x" domain={[0, 100]} ticks={TICKS} allowDataOverflow interval={0}
          height={205} tick={tickStyle} tickSize={15} tickMargin={10} axisLine={{ stroke: '#808080', strokeWidth: 2 }} tickLine={{ stroke: '#000' }} />
        <XAxis xAxisId="top" orientation="top" type="number" dataKey="x" domain={[0, 100]} ticks={TICKS} allowDataOverflow interval={0}
          height={102} tick={tickStyle} tickSize={14} tickMargin={10} axisLine={{ stroke: '#333' }} tickLine={{ stroke: '#000' }} />
        <YAxis yAxisId="left" orientation="left" type="number" dataKey="y" domain={[0, 100]} ticks={TICKS} reversed allowDataOverflow interval={0}
          width={121} tick={tickStyle} tickSize={15} tickMargin={3} axisLine={{ stroke: '#000' }} tickLine={{ stroke: '#666', strokeWidth: 2 }} />
        <YAxis yAxisId="right" orientation="right" type="number" dataKey="y" domain={[0, 100]} ticks={TICKS} reversed allowDataOverflow interval={0}
          width={72} tick={tickStyle} tickSize={15} tickMargin={3} axisLine={{ stroke: '#555' }} tickLine={{ stroke: '#666', strokeWidth: 2 }} />
        <text x={720} y={24} textAnchor="middle" fontSize={33} fontFamily={FONT}>Distance (m)</text>
        <text x={24} y={701} textAnchor="middle" fontSize={33} fontFamily={FONT} transform="rotate(-90 24 701)">Distance (m)</text>
        <text x={617} y={1456} textAnchor="end" fontSize={33.5} fontFamily={FONT}>Thaw depth (cm)</text>
      </ScatterChart>
      <div style={{ position: 'absolute', left: 630, top: 1400 }}>
        <ScatterChart width={700} height={105} margin={{ top: 15, right: 32, bottom: 0, left: 20 }}>
          <Scatter data={legendData} isAnimationActive={false} shape={Nothing} legendType="none" />
          {LEVELS.map((level) => (
            <ReferenceArea key={level} x1={level} x2={level + 1} y1={0} y2={1} fill={levelColor(level)} fillOpacity={1} stroke="#808080" strokeWidth={1.5} />
          ))}
          <XAxis type="number" dataKey="x" domain={[24, 41]} ticks={LEVEL_TICKS} interval={0} height={39}
            tick={tickStyle} tickLine={false} axisLine={false} tickMargin={9} />
          <YAxis type="number" dataKey="y" domain={[0, 1]} hide />
        </ScatterChart>
      </div>
    </div>
  );
}
